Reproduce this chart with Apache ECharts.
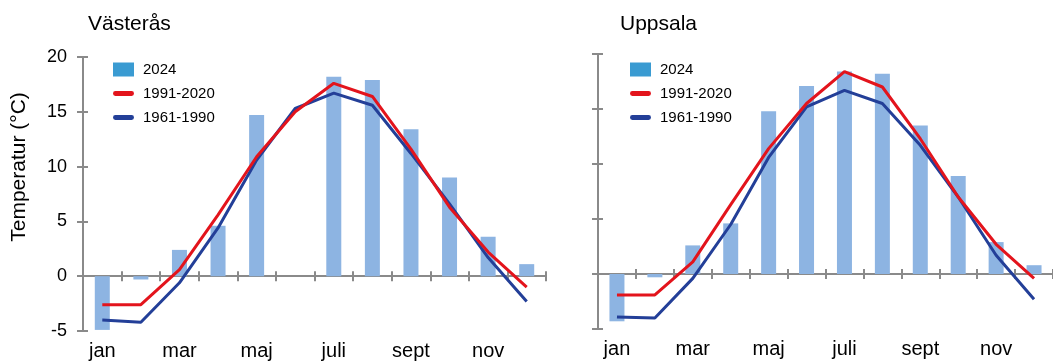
<!DOCTYPE html>
<html>
<head>
<meta charset="utf-8">
<script src="https://cdn.jsdelivr.net/npm/echarts@6/dist/echarts.min.js"></script>
<style>
  html, body { margin: 0; padding: 0; background: #fff; }
  #chart { width: 1053px; height: 361px; }
</style>
</head>
<body>
<div id="chart"></div>
<script>
// Monthly mean temperature (°C)
const months = ['jan', 'feb', 'mar', 'apr', 'maj', 'juni', 'juli', 'aug', 'sept', 'okt', 'nov', 'dec'];
const yTicks = [-5, 0, 5, 10, 15, 20];

const vasteras2024 = [-4.9, -0.3, 2.4, 4.6, 14.7, null, 18.2, 17.9, 13.4, 9.0, 3.6, 1.1];
const vasteras1991_2020 = [-2.6, -2.6, 0.6, 5.6, 10.9, 15.0, 17.6, 16.4, 11.6, 6.3, 2.2, -1.0];
const vasteras1961_1990 = [-4.0, -4.2, -0.6, 4.4, 10.6, 15.3, 16.7, 15.6, 11.2, 6.6, 1.7, -2.3];

const uppsala2024 = [-4.3, -0.3, 2.6, 4.6, 14.8, 17.1, 18.4, 18.2, 13.5, 8.9, 2.9, 0.8];
const uppsala1991_2020 = [-1.9, -1.9, 1.1, 6.3, 11.4, 15.5, 18.4, 17.0, 12.3, 7.0, 2.7, -0.4];
const uppsala1961_1990 = [-3.9, -4.0, -0.4, 4.5, 10.6, 15.2, 16.7, 15.5, 11.7, 7.0, 1.7, -2.3];

const FONT = '"Liberation Sans", Arial, sans-serif';
const AXIS_GREY = '#8a8a8a';
const BAR_COLOR = '#8db4e2';
const SWATCH_COLOR = '#3a9bd2';
const RED = '#e3141c';
const BLUE = '#233f98';
// rounded stroke used as the legend key for the two normal-period lines
const LINE_KEY = 'path://M2.5,0 H19.5 A2.5,2.5 0 0 1 19.5,5 H2.5 A2.5,2.5 0 0 1 2.5,0 Z';

const grids = [
  { left: 83, top: 57, width: 463, height: 275 },
  { left: 598, top: 54, width: 462, height: 275 }
];

const yMin = yTicks[0], yMax = yTicks[yTicks.length - 1], yStep = yTicks[1] - yTicks[0];

function xAxesFor(g) {
  return [
    // axis line through zero, ticks pointing down
    {
      type: 'category', gridIndex: g, data: months, boundaryGap: true,
      axisLine: { onZero: true, lineStyle: { color: AXIS_GREY, width: 2 } },
      axisTick: { show: true, inside: false, length: 5, lineStyle: { color: AXIS_GREY, width: 2 } },
      axisLabel: { show: false }
    },
    // same line, ticks pointing up
    {
      type: 'category', gridIndex: g, data: months, boundaryGap: true, position: 'bottom',
      axisLine: { onZero: true, show: false },
      axisTick: { show: true, inside: true, length: 5, lineStyle: { color: AXIS_GREY, width: 2 } },
      axisLabel: { show: false }
    },
    // month names along the bottom
    {
      type: 'category', gridIndex: g, data: months, boundaryGap: true, position: 'bottom',
      axisLine: { onZero: false, show: false },
      axisTick: { show: false },
      axisLabel: { show: true, interval: 1, margin: 10, fontSize: 20, color: '#000', fontFamily: FONT }
    }
  ];
}

function yAxesFor(g, showLabels) {
  return [
    {
      type: 'value', gridIndex: g, position: 'left', min: yMin, max: yMax, interval: yStep,
      axisLine: { show: true, onZero: false, lineStyle: { color: AXIS_GREY, width: 2 } },
      axisTick: { show: true, inside: false, length: 6, lineStyle: { color: AXIS_GREY, width: 2 } },
      axisLabel: { show: showLabels, margin: 16, fontSize: 18, color: '#000', fontFamily: FONT },
      splitLine: { show: false }
    },
    {
      type: 'value', gridIndex: g, position: 'left', offset: 0, min: yMin, max: yMax, interval: yStep,
      axisLine: { show: false, onZero: false },
      axisTick: { show: true, inside: true, length: 5, lineStyle: { color: AXIS_GREY, width: 2 } },
      axisLabel: { show: false },
      splitLine: { show: false }
    }
  ];
}

function seriesFor(g, bars, recent, older) {
  const xi = g * 3, yi = g * 2;
  return [
    {
      name: '2024', type: 'bar', xAxisIndex: xi, yAxisIndex: yi, data: bars,
      barWidth: 15, itemStyle: { color: BAR_COLOR }, z: 2
    },
    {
      name: '1991-2020', type: 'line', xAxisIndex: xi, yAxisIndex: yi, data: recent,
      symbol: 'none', lineStyle: { color: RED, width: 3 }, itemStyle: { color: RED }, z: 4
    },
    {
      name: '1961-1990', type: 'line', xAxisIndex: xi, yAxisIndex: yi, data: older,
      symbol: 'none', lineStyle: { color: BLUE, width: 3 }, itemStyle: { color: BLUE }, z: 3
    }
  ];
}

function legendAt(left) {
  return {
    orient: 'vertical', left: left, top: 62, padding: 0,
    itemWidth: 21, itemHeight: 14, itemGap: 9,
    selectedMode: false,
    textStyle: { fontSize: 15, color: '#000', fontFamily: FONT, lineHeight: 14, padding: [0, 0, 0, 4] },
    data: [
      { name: '2024', icon: 'rect', itemStyle: { color: SWATCH_COLOR } },
      { name: '1991-2020', icon: LINE_KEY, itemStyle: { color: RED } },
      { name: '1961-1990', icon: LINE_KEY, itemStyle: { color: BLUE } }
    ]
  };
}

const chart = echarts.init(document.getElementById('chart'), null, { renderer: 'canvas' });
chart.setOption({
  animation: false,
  backgroundColor: '#fff',
  title: [
    { text: 'Västerås', left: 83, top: 9, textStyle: { fontSize: 21, fontWeight: 'normal', color: '#000', fontFamily: FONT } },
    { text: 'Uppsala', left: 615, top: 9, textStyle: { fontSize: 21, fontWeight: 'normal', color: '#000', fontFamily: FONT } }
  ],
  legend: [legendAt(113), legendAt(630)],
  grid: grids,
  xAxis: [...xAxesFor(0), ...xAxesFor(1)],
  yAxis: [...yAxesFor(0, true), ...yAxesFor(1, false)],
  graphic: [{
    type: 'text', x: 19, y: 167, rotation: Math.PI / 2,
    style: {
      text: 'Temperatur (°C)', fontSize: 21, fontFamily: FONT, fill: '#000',
      align: 'center', verticalAlign: 'middle'
    }
  }],
  series: [
    ...seriesFor(0, vasteras2024, vasteras1991_2020, vasteras1961_1990),
    ...seriesFor(1, uppsala2024, uppsala1991_2020, uppsala1961_1990)
  ]
});
</script>
</body>
</html>
